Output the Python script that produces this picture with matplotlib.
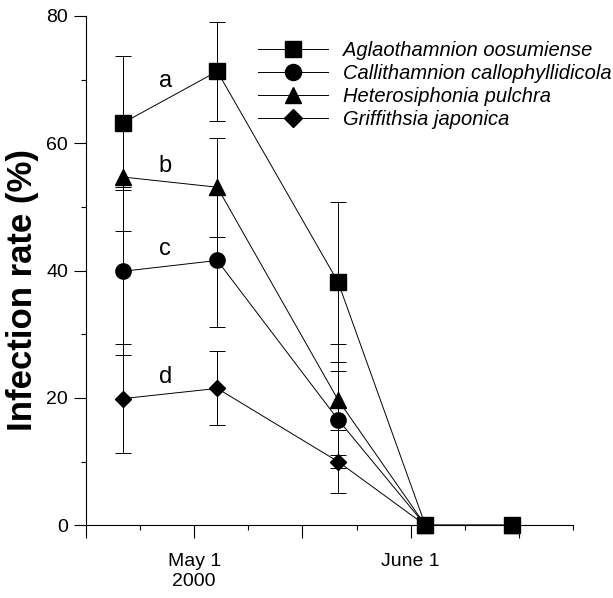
import numpy as np
import matplotlib
matplotlib.use('Agg')
import matplotlib.pyplot as plt
from matplotlib.ticker import FixedLocator

plt.rcParams['font.family'] = ['Liberation Sans', 'DejaVu Sans']

# Sampling dates, in days counted from May 1 2000
days = [-10.2, 3.3, 20.6, 33.1, 45.5]

# Infection rate (%) and error (first three samplings only carry error bars)
aglao = [63.2, 71.3, 38.2, 0, 0]
aglao_err = [10.5, 7.8, 12.6]
calli = [39.9, 41.6, 16.6, 0, 0]
calli_err = [13.2, 10.5, 7.6]
hetero = [54.7, 53.1, 19.7, 0, 0]
hetero_err = [8.4, 7.8, 8.7]
griff = [19.9, 21.5, 10.0, 0, 0]
griff_err = [8.6, 5.8, 5.0]

species = ['Aglaothamnion oosumiense', 'Callithamnion callophyllidicola',
           'Heterosiphonia pulchra', 'Griffithsia japonica']
group_letters = ['a', 'c', 'b', 'd']

# axis ticks: half-month steps (Apr 15, May 1, May 16, June 1, June 16)
major_ticks = [-15.5, 0, 15.5, 31, 46.5]
minor_ticks = [-7.75, 7.75, 23.25, 38.75, 54.25]
tick_labels = ['', 'May 1\n2000', '', 'June 1', '']

fig = plt.figure(figsize=(6.13, 5.98), dpi=100)
ax = fig.add_axes([0.1403, 0.1216, 0.7945, 0.8517])

series = [
    (aglao, aglao_err, 's', 11.5, 5),
    (calli, calli_err, 'o', 11, 4),
    (hetero, hetero_err, '^', 11, 4),
    (griff, griff_err, 'D', 8.5, 4),
]

for (vals, err, mk, ms, z), name in zip(series, species):
    ax.errorbar(days[:3], vals[:3], yerr=err, fmt='none', ecolor='black',
                elinewidth=0.7, capsize=5.8, capthick=0.7, zorder=2)
    ax.plot(days, vals, color='black', lw=0.7, marker=mk, ms=ms,
            markerfacecolor='black', markeredgecolor='black', label=name,
            zorder=z, clip_on=False)

# group letters above the first segment of each line
for (vals, err, mk, ms, z), letter in zip(series, group_letters):
    xm = (days[0] + days[1]) / 2 - 0.7
    ym = (vals[0] + vals[1]) / 2
    ax.annotate(letter, (xm, ym), xytext=(0, 4), textcoords='offset points',
                ha='center', va='bottom', fontsize=17)

ax.set_xlim(-15.5, 54.25)
ax.set_ylim(0, 80)
ax.spines['top'].set_visible(False)
ax.spines['right'].set_visible(False)
ax.spines['left'].set_linewidth(0.8)
ax.spines['bottom'].set_linewidth(0.8)

ax.xaxis.set_major_locator(FixedLocator(major_ticks))
ax.set_xticklabels(tick_labels)
ax.xaxis.set_minor_locator(FixedLocator(minor_ticks))
ax.set_yticks([0, 20, 40, 60, 80])
ax.yaxis.set_minor_locator(FixedLocator([10, 30, 50, 70]))

ax.tick_params(axis='both', which='major', direction='out', length=9, width=0.8,
               labelsize=14)
ax.tick_params(axis='both', which='minor', direction='out', length=3.5, width=0.8)
ax.tick_params(axis='x', which='major', pad=11)
ax.tick_params(axis='y', which='major', pad=4)
for lbl in ax.get_xticklabels():
    lbl.set_linespacing(1.25)

ax.set_ylabel('Infection rate (%)', fontsize=25, fontweight='bold')
ax.yaxis.set_label_coords(-0.097, 0.462)

ax.legend(loc='upper left', bbox_to_anchor=(0.353, 0.951), frameon=False,
          prop={'style': 'italic', 'size': 14.5}, handlelength=3.5,
          handletextpad=0.7, labelspacing=0.2, borderpad=0, borderaxespad=0,
          markerscale=1.05)

fig.savefig('out.png', dpi=100)
